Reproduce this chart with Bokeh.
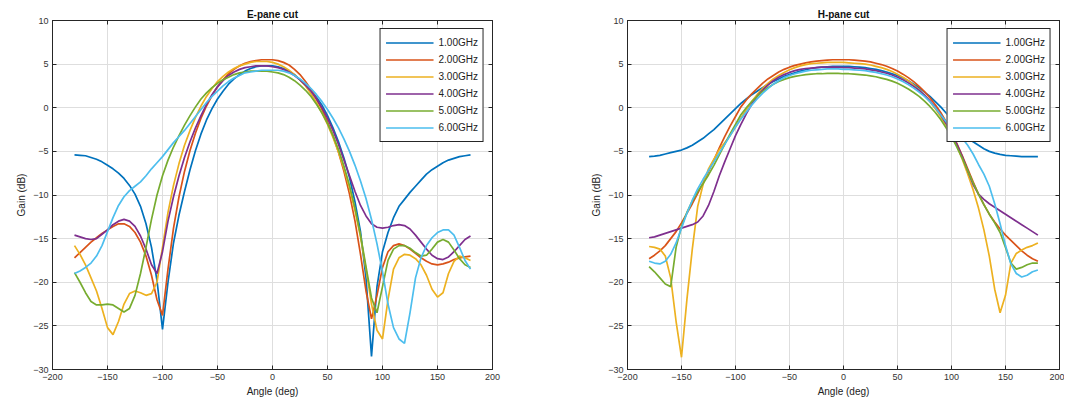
from bokeh.plotting import figure
from bokeh.layouts import row
from bokeh.models import FixedTicker, Legend, LegendItem, Range1d, LinearAxis
from bokeh.embed import file_html
from bokeh.resources import INLINE

# ---------------- data ----------------
angles = list(range(-180, 181, 5))
freq_labels = ["1.00GHz", "2.00GHz", "3.00GHz", "4.00GHz", "5.00GHz", "6.00GHz"]
colors = ["#0072BD", "#D95319", "#EDB120", "#7E2F8E", "#77AC30", "#4DBEEE"]
x_ticks = [-200, -150, -100, -50, 0, 50, 100, 150, 200]
y_ticks = [-30, -25, -20, -15, -10, -5, 0, 5, 10]

# E-plane cut gains (dB), angles -180..180 step 5
e_1ghz = [-5.4, -5.45, -5.5, -5.7, -5.9, -6.2, -6.6, -7.0, -7.5, -8.1, -8.9, -9.9, -11.3,
          -13.3, -16.0, -19.8, -25.4, -20.0, -15.5, -12.3, -9.6, -7.1, -4.9, -3.0, -1.4,
          -0.1, 1.0, 1.9, 2.7, 3.3, 3.8, 4.2, 4.5, 4.7, 4.8, 4.8, 4.8, 4.7, 4.5, 4.2, 3.8,
          3.2, 2.6, 2.0, 1.2, 0.3, -0.9, -2.3, -3.9, -5.8, -8.0, -10.8, -14.2, -19.5, -28.5,
          -20.5, -16.5, -14.3, -12.6, -11.3, -10.5, -9.7, -9.0, -8.3, -7.6, -7.1, -6.7, -6.3,
          -6.0, -5.8, -5.6, -5.5, -5.4]
e_2ghz = [-17.2, -16.6, -16.0, -15.4, -14.9, -14.4, -14.0, -13.6, -13.3, -13.3, -13.6, -14.3,
          -15.4, -17.0, -19.2, -22.0, -23.8, -18.5, -13.8, -10.2, -7.3, -4.9, -2.9, -1.2, 0.2,
          1.4, 2.4, 3.2, 3.9, 4.4, 4.8, 5.1, 5.3, 5.4, 5.5, 5.5, 5.5, 5.4, 5.2, 4.9, 4.4, 3.8,
          3.0, 2.1, 1.0, -0.2, -1.6, -3.2, -5.1, -7.3, -9.9, -13.0, -16.8, -21.0, -24.2, -21.5,
          -18.3, -16.5, -15.8, -15.6, -15.8, -16.2, -16.7, -17.2, -17.6, -17.9, -18.0, -17.9,
          -17.7, -17.4, -17.2, -17.1, -17.0]
e_3ghz = [-15.8, -16.8, -18.0, -19.5, -21.0, -23.0, -25.2, -26.0, -24.5, -22.5, -21.3, -21.0,
          -21.2, -21.5, -21.3, -20.0, -16.0, -12.0, -8.9, -6.4, -4.3, -2.6, -1.1, 0.2, 1.3,
          2.2, 3.0, 3.6, 4.1, 4.5, 4.8, 5.0, 5.2, 5.3, 5.3, 5.3, 5.2, 5.0, 4.7, 4.3, 3.8, 3.2,
          2.5, 1.6, 0.6, -0.6, -1.9, -3.4, -5.1, -7.0, -9.2, -11.8, -14.8, -18.5, -22.5, -25.5,
          -26.5, -22.0, -18.5, -17.2, -16.8, -16.9, -17.3, -18.0, -19.2, -20.8, -21.7, -21.2,
          -19.0, -17.6, -17.0, -17.2, -17.5]
e_4ghz = [-14.6, -14.8, -15.0, -15.1, -15.0, -14.5, -14.0, -13.4, -13.0, -12.8, -13.0, -13.6,
          -14.7, -16.2, -18.0, -19.0, -16.5, -13.0, -10.2, -7.8, -5.7, -3.9, -2.3, -0.9, 0.4,
          1.5, 2.4, 3.1, 3.7, 4.1, 4.4, 4.6, 4.7, 4.8, 4.8, 4.8, 4.7, 4.6, 4.4, 4.1, 3.7, 3.2,
          2.6, 1.9, 1.0, 0.0, -1.2, -2.6, -4.2, -6.0, -7.8, -9.6, -11.2, -12.4, -13.3, -13.7,
          -13.8, -13.7, -13.5, -13.4, -13.5, -13.9, -14.6, -15.4, -16.2, -16.9, -17.3, -17.4,
          -17.1, -16.5, -15.8, -15.1, -14.7]
e_5ghz = [-18.9, -20.0, -21.2, -22.2, -22.6, -22.6, -22.5, -22.6, -23.0, -23.4, -23.0, -21.5,
          -19.0, -16.0, -12.8, -10.0, -7.8, -6.0, -4.5, -3.2, -2.0, -0.9, 0.1, 1.0, 1.7, 2.3,
          2.8, 3.2, 3.5, 3.8, 4.0, 4.1, 4.2, 4.2, 4.2, 4.2, 4.1, 4.0, 3.8, 3.5, 3.1, 2.6, 2.0,
          1.3, 0.4, -0.6, -1.8, -3.2, -4.8, -6.7, -8.9, -11.5, -14.6, -18.2, -21.8, -23.5,
          -20.5, -17.5, -16.2, -15.8, -15.8, -16.1, -16.6, -17.0, -16.9, -16.2, -15.4, -15.1,
          -15.4, -16.3, -17.3, -18.0, -18.3]
e_6ghz = [-19.0, -18.7, -18.3, -17.8, -17.0, -15.8, -14.2, -12.6, -11.2, -10.2, -9.5, -9.0,
          -8.5, -7.8, -7.0, -6.3, -5.6, -4.8, -4.0, -3.3, -2.6, -1.8, -1.0, -0.2, 0.6, 1.3,
          1.9, 2.5, 3.0, 3.4, 3.7, 4.0, 4.1, 4.2, 4.3, 4.3, 4.3, 4.3, 4.2, 4.0, 3.7, 3.3, 2.8,
          2.2, 1.5, 0.7, -0.2, -1.2, -2.3, -3.6, -5.0, -6.6, -8.4, -10.4, -12.8, -15.6, -18.8,
          -22.5, -25.2, -26.5, -27.0, -23.5, -19.5, -17.2, -15.8, -14.9, -14.3, -14.0, -14.0,
          -14.6, -16.0, -17.5, -18.5]

# H-plane cut gains (dB), angles -180..180 step 5
h_1ghz = [-5.6, -5.55, -5.45, -5.3, -5.15, -5.0, -4.85, -4.6, -4.3, -3.9, -3.5, -3.0, -2.5,
          -1.9, -1.3, -0.7, -0.1, 0.5, 1.0, 1.5, 1.9, 2.3, 2.7, 3.0, 3.3, 3.6, 3.8, 4.0, 4.2,
          4.35, 4.5, 4.6, 4.65, 4.7, 4.75, 4.75, 4.75, 4.75, 4.7, 4.65, 4.6, 4.5, 4.4, 4.25,
          4.1, 3.9, 3.7, 3.4, 3.1, 2.7, 2.3, 1.8, 1.3, 0.7, 0.1, -0.6, -1.3, -2.0, -2.7, -3.3,
          -3.9, -4.3, -4.7, -5.0, -5.2, -5.35, -5.45, -5.5, -5.55, -5.6, -5.6, -5.6, -5.6]
h_2ghz = [-17.3, -16.9, -16.4, -15.8, -15.0, -14.2, -13.2, -12.1, -11.0, -9.8, -8.6, -7.3,
          -6.0, -4.6, -3.3, -2.1, -1.0, 0.1, 0.9, 1.6, 2.2, 2.8, 3.3, 3.7, 4.1, 4.4, 4.65,
          4.85, 5.0, 5.15, 5.25, 5.35, 5.4, 5.45, 5.5, 5.5, 5.5, 5.5, 5.45, 5.4, 5.35, 5.25,
          5.1, 4.95, 4.75, 4.5, 4.2, 3.85, 3.45, 3.0, 2.45, 1.85, 1.15, 0.35, -0.55, -1.6,
          -2.8, -4.1, -5.5, -7.0, -8.5, -9.9, -11.1, -12.2, -13.1, -13.9, -14.6, -15.2, -15.8,
          -16.4, -16.9, -17.3, -17.6]
h_3ghz = [-15.9, -16.0, -16.2, -17.0, -19.5, -24.5, -28.6, -22.0, -16.2, -11.3, -8.8, -7.0,
          -5.9, -4.8, -4.0, -3.2, -2.2, -1.2, -0.2, 0.7, 1.5, 2.2, 2.8, 3.3, 3.7, 4.05, 4.35,
          4.6, 4.8, 4.95, 5.05, 5.1, 5.15, 5.2, 5.2, 5.2, 5.2, 5.15, 5.1, 5.05, 5.0, 4.9,
          4.75, 4.6, 4.4, 4.15, 3.85, 3.5, 3.1, 2.6, 2.05, 1.4, 0.7, -0.1, -1.0, -2.0, -3.1,
          -4.4, -5.9, -7.6, -9.4, -11.5, -14.0, -17.0, -20.8, -23.5, -21.5, -17.8, -16.7,
          -16.3, -16.0, -15.8, -15.5]
h_4ghz = [-14.9, -14.8, -14.6, -14.4, -14.2, -14.0, -13.8, -13.6, -13.4, -13.1, -12.4, -11.2,
          -9.6, -7.8, -6.2, -4.7, -3.2, -1.9, -0.7, 0.4, 1.3, 2.0, 2.6, 3.1, 3.5, 3.8, 4.05,
          4.25, 4.4, 4.5, 4.55, 4.6, 4.65, 4.65, 4.65, 4.65, 4.6, 4.6, 4.55, 4.5, 4.45, 4.35,
          4.25, 4.1, 3.95, 3.75, 3.5, 3.2, 2.85, 2.45, 2.0, 1.45, 0.8, 0.05, -0.8, -1.8, -2.9,
          -4.2, -5.6, -7.2, -8.8, -9.9, -10.5, -11.0, -11.4, -11.8, -12.2, -12.6, -13.0, -13.4,
          -13.8, -14.2, -14.6]
h_5ghz = [-18.2, -18.8, -19.5, -20.2, -20.5, -16.0, -13.6, -12.0, -10.7, -9.6, -8.7, -7.7,
          -6.6, -5.4, -4.2, -3.0, -1.9, -0.8, 0.0, 0.7, 1.3, 1.85, 2.3, 2.7, 3.0, 3.25, 3.45,
          3.6, 3.7, 3.8, 3.85, 3.9, 3.9, 3.95, 3.95, 3.95, 3.9, 3.9, 3.85, 3.8, 3.75, 3.65,
          3.55, 3.4, 3.25, 3.05, 2.8, 2.5, 2.15, 1.75, 1.3, 0.75, 0.15, -0.55, -1.35, -2.3,
          -3.3, -4.5, -5.8, -7.2, -8.6, -9.9, -11.1, -12.2, -13.2, -14.3, -16.0, -17.8, -18.5,
          -18.3, -18.0, -17.8, -17.8]
h_6ghz = [-17.6, -17.8, -17.9, -17.6, -16.8, -15.5, -13.8, -12.1, -10.6, -9.3, -8.2, -7.2,
          -6.2, -5.2, -4.2, -3.2, -2.2, -1.3, -0.5, 0.3, 1.0, 1.65, 2.2, 2.7, 3.1, 3.45, 3.7,
          3.9, 4.05, 4.2, 4.3, 4.35, 4.4, 4.45, 4.45, 4.45, 4.4, 4.4, 4.35, 4.3, 4.25, 4.15,
          4.05, 3.9, 3.75, 3.55, 3.3, 3.0, 2.65, 2.25, 1.8, 1.3, 0.7, 0.0, -0.8, -1.6, -2.4,
          -3.2, -3.5, -4.3, -5.3, -6.5, -7.6, -9.0, -11.0, -13.3, -15.8, -17.9, -19.0, -19.4,
          -19.2, -18.8, -18.6]

e_series = [e_1ghz, e_2ghz, e_3ghz, e_4ghz, e_5ghz, e_6ghz]
h_series = [h_1ghz, h_2ghz, h_3ghz, h_4ghz, h_5ghz, h_6ghz]

FONT = "Liberation Sans"
DARK = "#262626"


def style_axis(ax, ticks):
    ax.ticker = FixedTicker(ticks=ticks)
    ax.major_tick_in = 4
    ax.major_tick_out = 0
    ax.minor_tick_line_color = None
    ax.axis_line_color = DARK
    ax.major_tick_line_color = DARK
    ax.major_label_text_font = FONT
    ax.major_label_text_font_size = "9px"
    ax.major_label_text_color = "#333333"
    ax.axis_label_text_font = FONT
    ax.axis_label_text_font_size = "10px"
    ax.axis_label_text_font_style = "normal"
    ax.axis_label_text_color = "#222222"
    ax.axis_label_standoff = 3
    ax.major_label_standoff = 4


def tick_only_axis(ticks):
    ax = LinearAxis(ticker=FixedTicker(ticks=ticks))
    ax.major_tick_in = 4
    ax.major_tick_out = 0
    ax.minor_tick_line_color = None
    ax.axis_line_color = DARK
    ax.major_tick_line_color = DARK
    ax.major_label_text_font_size = "0px"
    ax.major_label_text_alpha = 0
    ax.major_label_standoff = 0
    return ax


def make_fig(title, series, width, border_left, border_right):
    p = figure(width=width, height=404, x_range=Range1d(-200, 200), y_range=Range1d(-30, 10),
               output_backend="svg", toolbar_location=None,
               min_border_left=border_left, min_border_right=border_right,
               min_border_top=20, min_border_bottom=35)
    p.title.text = title
    p.title.align = "center"
    p.title.text_font = FONT
    p.title.text_font_size = "10px"
    p.title.text_font_style = "bold"
    p.title.text_color = "#111111"
    p.title.standoff = 2
    p.outline_line_color = DARK
    p.outline_line_alpha = 1
    p.outline_line_width = 1
    style_axis(p.xaxis[0], x_ticks)
    style_axis(p.yaxis[0], y_ticks)
    p.xaxis[0].axis_label = "Angle (deg)"
    p.yaxis[0].axis_label = "Gain (dB)"
    p.add_layout(tick_only_axis(x_ticks), "above")
    p.add_layout(tick_only_axis(y_ticks), "right")
    p.xgrid[0].ticker = FixedTicker(ticks=x_ticks)
    p.ygrid[0].ticker = FixedTicker(ticks=y_ticks)
    p.grid.grid_line_color = "#dedede"
    p.grid.grid_line_width = 1

    items = []
    for vals, col, lab in zip(series, colors, freq_labels):
        r = p.line(angles, vals, line_color=col, line_width=1.7)
        items.append(LegendItem(label=lab, renderers=[r]))
    leg = Legend(items=items, location="top_right")
    leg.margin = 8
    leg.padding = 5
    leg.spacing = 0
    leg.glyph_width = 48
    leg.glyph_height = 17
    leg.label_height = 17
    leg.label_standoff = 5
    leg.label_text_font = FONT
    leg.label_text_font_size = "10px"
    leg.label_text_color = "#222222"
    leg.border_line_color = DARK
    leg.border_line_width = 1
    leg.border_line_alpha = 1
    leg.background_fill_alpha = 1
    p.add_layout(leg)
    return p


p1 = make_fig("E-pane cut", e_series, 560, 52, 68)
p2 = make_fig("H-pane cut", h_series, 504, 67, 5)
layout = row(p1, p2)

open("out.html", "w").write(file_html(layout, INLINE))
